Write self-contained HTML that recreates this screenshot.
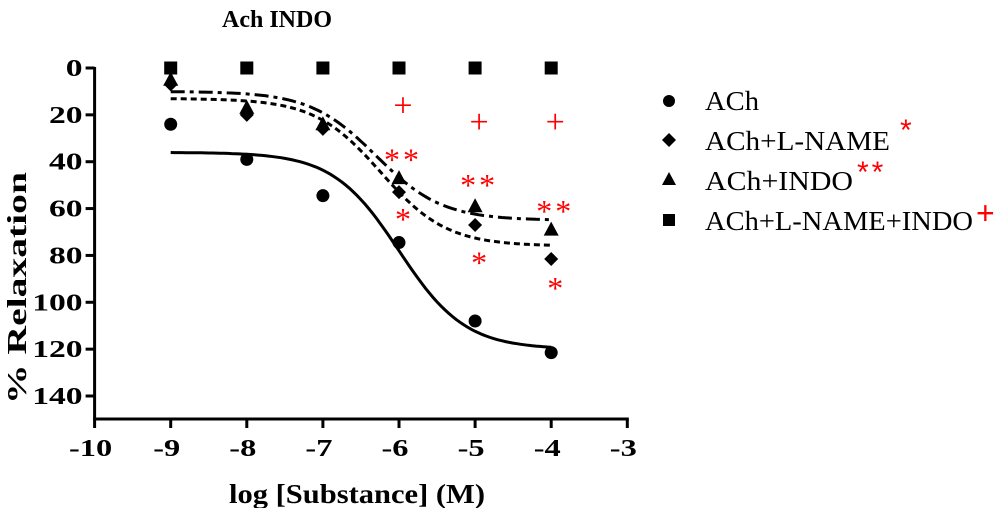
<!DOCTYPE html>
<html><head><meta charset="utf-8"><style>
body{margin:0;background:#fff;}
svg text{font-family:"Liberation Serif",serif;font-weight:bold;}
</style></head><body>
<svg id="chart" width="1000" height="508" xmlns="http://www.w3.org/2000/svg">
<text x="277" y="27" font-size="24" text-anchor="middle">Ach INDO</text>
<text transform="translate(26,288) rotate(-90)" font-size="27" text-anchor="middle" textLength="232" lengthAdjust="spacingAndGlyphs">% Relaxation</text>
<text x="357" y="503" font-size="27" text-anchor="middle" textLength="256" lengthAdjust="spacingAndGlyphs">log [Substance] (M)</text>
<g id="axes"></g><g id="curves"></g><g id="marks"></g><g id="annot"></g>
<g font-size="27">
 <circle cx="669" cy="101" r="6" fill="#000"/>
 <text x="705" y="110" font-weight="normal" textLength="54" lengthAdjust="spacingAndGlyphs" style="font-weight:normal">ACh</text>
 <path d="M669 133 L676 140 L669 147 L662 140Z" fill="#000"/>
 <text x="705" y="150" style="font-weight:normal"><tspan textLength="185" lengthAdjust="spacingAndGlyphs">ACh+L-NAME</tspan><tspan fill="red" font-family="Liberation Sans" font-size="30" dx="10" dy="-10">*</tspan></text>
 <path d="M669 172 L676 185 L662 185Z" fill="#000"/>
 <text x="705" y="190" style="font-weight:normal"><tspan textLength="148" lengthAdjust="spacingAndGlyphs">ACh+INDO</tspan><tspan fill="red" font-family="Liberation Sans" font-size="30" dx="4" dy="-8" letter-spacing="3">**</tspan></text>
 <rect x="663" y="214" width="12" height="12" fill="#000"/>
 <text x="705" y="230" style="font-weight:normal"><tspan textLength="268" lengthAdjust="spacingAndGlyphs">ACh+L-NAME+INDO</tspan><tspan fill="red" font-family="Liberation Sans" font-size="32" dx="3" dy="-6">+</tspan></text>
</g>
</svg>
<script>
const xs=[-9,-8,-7,-6,-5,-4];
const achVals=[24,39,54.5,74.5,108,121.5];
const lnameVals=[7,20,26,53,67,81.5];
const indoVals=[5,17,24,47,59,69];
const bothVals=[0,0,0,0,0,0];
const xTicks=[-10,-9,-8,-7,-6,-5,-4,-3];
const yTicks=[0,20,40,60,80,100,120,140];
// curve fit params: [bottom, top, logEC50, hill]
const achFit=[36,120,-6.0,1];
const lnameFit=[13,76,-6.24,1];
const indoFit=[10,65,-6.3,1];
// annotations: [x, value, text]
const annX=[-6,-5,-4,-6,-5,-4,-6,-5,-4];
const annY=[16,23,23,36,47,58,61.5,80,91];
const annT=['+','+','+','**','**','**','*','*','*'];

const NS='http://www.w3.org/2000/svg';
const X=v=>94.6+(v+10)*76.1;
const Y=v=>68+v*(328/140);
function el(t,a,p){const e=document.createElementNS(NS,t);for(const k in a)e.setAttribute(k,a[k]);(typeof p==='string'?document.getElementById(p):p).appendChild(e);return e;}
let e;
e=el('line',{x1:X(-10),y1:Y(0)-1,x2:X(-10),y2:419,stroke:'#000','stroke-width':3},'axes');


e=el('line',{x1:X(-10)-1.5,y1:419,x2:X(-3)+1.5,y2:419,stroke:'#000','stroke-width':3},'axes');


yTicks.forEach(v=>{
 el('line',{x1:X(-10)-9,y1:Y(v),x2:X(-10),y2:Y(v),stroke:'#000','stroke-width':3},'axes');
 const g=el('g',{transform:`translate(${X(-10)-12},${Y(v)+8}) scale(1.4,1)`},'axes');
 const t=el('text',{x:0,y:0,'font-size':24,'text-anchor':'end'},g);t.textContent=v;
 
 
});
xTicks.forEach(v=>{
 el('line',{x1:X(v),y1:419,x2:X(v),y2:428,stroke:'#000','stroke-width':3},'axes');
 const g=el('g',{transform:`translate(${X(v)-4},${456}) scale(1.35,1)`},'axes');
 const t=el('text',{x:0,y:0,'font-size':24,'text-anchor':'middle'},g);t.textContent=v;
 
 
});
function curve(p,dash,name){
 let d='';
 for(let i=0;i<=100;i++){const x=-9+5*i/100;const y=p[0]+(p[1]-p[0])/(1+Math.pow(10,(p[2]-x)*p[3]));d+=(i?'L':'M')+X(x).toFixed(1)+' '+Y(y).toFixed(1);}
 const c=el('path',{d:d,fill:'none',stroke:'#000','stroke-width':3,'stroke-dasharray':dash},'curves');
 
 
}
curve(achFit,'none','ach-fit-curve');
curve(lnameFit,'6,4','lname-fit-curve');
curve(indoFit,'14,5,4,5','indo-fit-curve');
xs.forEach((x,i)=>{
 let m=el('circle',{cx:X(x),cy:Y(achVals[i]),r:6.5,fill:'#000'},'marks');
 
 
 const cx=X(x),cy=Y(lnameVals[i]);
 m=el('path',{d:`M${cx} ${cy-7}L${cx+7} ${cy}L${cx} ${cy+7}L${cx-7} ${cy}Z`,fill:'#000'},'marks');
 
 
 const ty=Y(indoVals[i]);
 m=el('path',{d:`M${cx} ${ty-8}L${cx+7.5} ${ty+6}L${cx-7.5} ${ty+6}Z`,fill:'#000'},'marks');
 
 
 m=el('rect',{x:cx-6.5,y:Y(bothVals[i])-6.5,width:13,height:13,fill:'#000'},'marks');
 
 
});
annX.forEach((x,i)=>{
 const plus=annT[i]=='+';
 const t=el('text',{x:X(x)+4,y:Y(annY[i])+(plus?11:18),'font-size':plus?34:32,'text-anchor':'middle',fill:'red','font-family':'Liberation Sans','letter-spacing':annT[i]=='**'?3:0},'annot');
 t.setAttribute('style','font-weight:normal');
 t.textContent=annT[i];
 
 
});
</script>
</body></html>
